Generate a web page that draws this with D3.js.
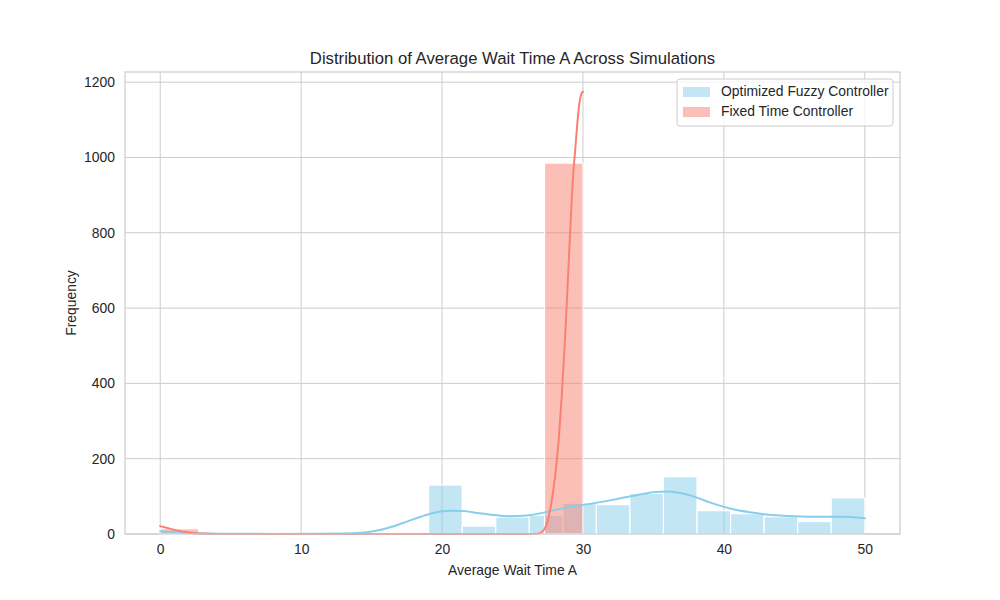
<!DOCTYPE html>
<html>
<head>
<meta charset="utf-8">
<script src="https://cdn.jsdelivr.net/npm/d3@7"></script>
<style>
  body { margin: 0; background: #fff; }
  text { font-family: "Liberation Sans", Arial, sans-serif; fill: #262626; }
</style>
</head>
<body>
<div id="chart"></div>
<script>
// histogram counts
const fuzzyBins = [8, 0, 0, 0, 0, 0, 0, 0, 130, 21, 45, 50, 82, 78, 108, 152, 62, 54, 46, 33, 96];
const fuzzyRange = [0, 50];
const fixedBins = [14, 0, 0, 0, 0, 0, 0, 0, 0, 0, 985];
const fixedRange = [0, 30];

// kde curves [x, frequency]
const fuzzyKde = [[0,7],[1,5],[2,3],[3,1.5],[5,0.8],[8,0.3],[11,0.5],[13,1],[14.5,4],[15.5,10],[16.5,20],[17.5,33],[18.5,46],[19.5,57],[20.5,62],[21.5,61],[22.5,56],[23.5,51],[24.8,47],[26.2,50],[27.6,60],[29,72],[30.5,80],[32,90],[33.5,101],[35,111],[36,113],[37,108],[38,98],[39,84],[40,72],[41,63],[42,57],[43,52],[44,49],[45,47],[46,46],[47,45.5],[48,46],[49,45],[50,42]];
const fixedKde = [[0,21],[0.5,16],[1,11],[1.5,7],[2,4],[2.5,2],[3,1],[4,0.3],[6,0],[26,0],[26.8,1],[27.1,6],[27.3,15],[27.5,35],[27.7,70],[27.9,118],[28.1,178],[28.3,260],[28.5,370],[28.7,500],[28.9,650],[29.1,810],[29.3,950],[29.45,1020],[29.6,1090],[29.75,1145],[29.9,1170],[30,1175]];

const xTicks = [0, 10, 20, 30, 40, 50];
const yTicks = [0, 200, 400, 600, 800, 1000, 1200];
const seriesNames = ['Optimized Fuzzy Controller', 'Fixed Time Controller'];
const colors = ['#87CEEB', '#FA8072'];

let dimensions = {
    width: 1000,
    height: 600,
    margin: { top: 72, bottom: 66, left: 125, right: 100 }
};
dimensions.ctrWidth = dimensions.width - dimensions.margin.left - dimensions.margin.right;
dimensions.ctrHeight = dimensions.height - dimensions.margin.top - dimensions.margin.bottom;

const svg = d3.select('#chart')
    .append('svg')
    .attr('width', dimensions.width)
    .attr('height', dimensions.height);

const ctr = svg.append('g')
    .attr('transform', `translate(${dimensions.margin.left}, ${dimensions.margin.top})`);

const xScale = d3.scaleLinear().domain([-2.5, 52.5]).range([0, dimensions.ctrWidth]);
const yScale = d3.scaleLinear().domain([0, 1227]).range([dimensions.ctrHeight, 0]);

// grid
ctr.append('g').selectAll('line').data(xTicks).join('line')
    .attr('x1', d => xScale(d)).attr('x2', d => xScale(d))
    .attr('y1', 0).attr('y2', dimensions.ctrHeight)
    .attr('stroke', '#cccccc').attr('stroke-width', 1);
ctr.append('g').selectAll('line').data(yTicks).join('line')
    .attr('x1', 0).attr('x2', dimensions.ctrWidth)
    .attr('y1', d => yScale(d)).attr('y2', d => yScale(d))
    .attr('stroke', '#cccccc').attr('stroke-width', 1);

// bars
function binData(counts, range) {
    const w = (range[1] - range[0]) / counts.length;
    return counts.map((c, i) => ({ x0: range[0] + i * w, x1: range[0] + (i + 1) * w, c }));
}
function drawBars(counts, range, color) {
    ctr.append('g').selectAll('rect')
        .data(binData(counts, range).filter(d => d.c > 0))
        .join('rect')
        .attr('x', d => xScale(d.x0))
        .attr('width', d => xScale(d.x1) - xScale(d.x0))
        .attr('y', d => yScale(d.c))
        .attr('height', d => yScale(0) - yScale(d.c))
        .attr('fill', color).attr('fill-opacity', 0.5)
        .attr('stroke', '#fff').attr('stroke-width', 1.2);
}
drawBars(fuzzyBins, fuzzyRange, colors[0]);
drawBars(fixedBins, fixedRange, colors[1]);

// kde lines
const line = d3.line()
    .x(d => xScale(d[0]))
    .y(d => yScale(d[1]))
    .curve(d3.curveMonotoneX);
[fuzzyKde, fixedKde].forEach((kde, i) => {
    ctr.append('path').datum(kde)
        .attr('d', line)
        .attr('fill', 'none')
        .attr('stroke', colors[i])
        .attr('stroke-width', 2)
        .attr('stroke-linecap', 'round');
});

// frame
ctr.append('rect')
    .attr('width', dimensions.ctrWidth).attr('height', dimensions.ctrHeight)
    .attr('fill', 'none').attr('stroke', '#cccccc').attr('stroke-width', 1.2);

// axes (labels only, no tick marks)
const xAxis = ctr.append('g')
    .attr('transform', `translate(0, ${dimensions.ctrHeight})`)
    .call(d3.axisBottom(xScale).tickValues(xTicks).tickFormat(d3.format('d')).tickSize(0).tickPadding(10));
const yAxis = ctr.append('g')
    .call(d3.axisLeft(yScale).tickValues(yTicks).tickFormat(d3.format('d')).tickSize(0).tickPadding(10));
[xAxis, yAxis].forEach(a => {
    a.select('.domain').remove();
    a.selectAll('text')
        .style('font-family', '"Liberation Sans", Arial, sans-serif')
        .style('font-size', '13.9px').attr('fill', '#262626');
});

// titles
svg.append('text')
    .attr('x', dimensions.margin.left + dimensions.ctrWidth / 2)
    .attr('y', 64)
    .attr('text-anchor', 'middle')
    .style('font-size', '16.7px')
    .text('Distribution of Average Wait Time A Across Simulations');
svg.append('text')
    .attr('x', dimensions.margin.left + dimensions.ctrWidth / 2)
    .attr('y', 575)
    .attr('text-anchor', 'middle')
    .style('font-size', '13.9px')
    .text('Average Wait Time A');
svg.append('text')
    .attr('transform', `translate(76, ${dimensions.margin.top + dimensions.ctrHeight / 2}) rotate(-90)`)
    .attr('text-anchor', 'middle')
    .style('font-size', '13.9px')
    .text('Frequency');

// legend
const legend = ctr.append('g')
    .attr('transform', `translate(${dimensions.ctrWidth - 223}, 7)`);
legend.append('rect')
    .attr('width', 216).attr('height', 47).attr('rx', 3)
    .attr('fill', '#fff').attr('fill-opacity', 0.8)
    .attr('stroke', '#cccccc');
seriesNames.forEach((name, i) => {
    legend.append('rect')
        .attr('x', 6).attr('y', 8 + i * 20)
        .attr('width', 27).attr('height', 10)
        .attr('fill', colors[i]).attr('fill-opacity', 0.5);
    legend.append('text')
        .attr('x', 44).attr('y', 17 + i * 20)
        .style('font-size', '13.9px')
        .text(name);
});
</script>
</body>
</html>
